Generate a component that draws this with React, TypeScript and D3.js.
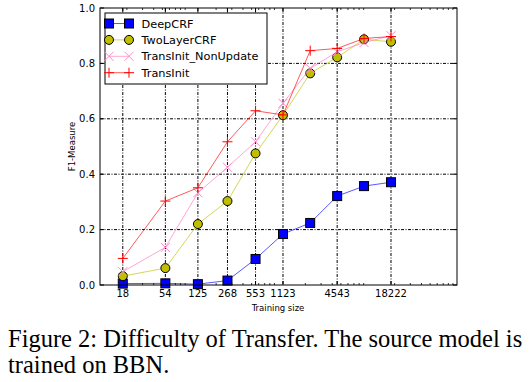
import React from "react";
import * as d3 from "d3";

const sizes = [18, 54, 125, 268, 553, 1123, 2265, 4543, 9086, 18222];
const tickSizes = [18, 54, 125, 268, 553, 1123, 4543, 18222];
const yTicks = [0, 0.2, 0.4, 0.6, 0.8, 1.0];

const deepCRF = [0.005, 0.006, 0.003, 0.016, 0.094, 0.184, 0.224, 0.321, 0.357, 0.371];
const twoLayerCRF = [0.032, 0.061, 0.22, 0.303, 0.475, 0.613, 0.764, 0.822, 0.887, 0.878];
const transInitNonUpdate = [0.048, 0.136, 0.333, 0.425, 0.517, 0.656, 0.782, 0.842, 0.875, 0.9];
const transInit = [0.096, 0.303, 0.351, 0.517, 0.629, 0.614, 0.846, 0.854, 0.89, 0.897];

const seriesNames = ["DeepCRF", "TwoLayerCRF", "TransInit_NonUpdate", "TransInit"];

const L = 100, R = 457, T = 8, B = 285;

export default function App() {
  const x = d3.scaleLog().domain([10, 100000]).range([L, R]);
  const y = d3.scaleLinear().domain([0, 1]).range([B, T]);
  const line = d3.line<number>().x((_, i) => x(sizes[i])).y((v) => y(v));

  const series = [
    { name: seriesNames[0], data: deepCRF, line: "#0000ff", marker: "square", fill: "#0000ff" },
    { name: seriesNames[1], data: twoLayerCRF, line: "#bfbf00", marker: "circle", fill: "#bfbf00" },
    { name: seriesNames[2], data: transInitNonUpdate, line: "#ff77bb", marker: "x", fill: "#ff88cc" },
    { name: seriesNames[3], data: transInit, line: "#ff0000", marker: "plus", fill: "#ff0000" },
  ];

  const marker = (type: string, cx: number, cy: number, fill: string, key: any) => {
    if (type === "square")
      return <rect key={key} x={cx - 4.5} y={cy - 4.5} width={9} height={9} fill={fill} stroke="#000" strokeWidth={1} />;
    if (type === "circle")
      return <circle key={key} cx={cx} cy={cy} r={4.5} fill={fill} stroke="#000" strokeWidth={1} />;
    if (type === "x")
      return (
        <path key={key} d={`M${cx - 4.5},${cy - 4.5}L${cx + 4.5},${cy + 4.5}M${cx - 4.5},${cy + 4.5}L${cx + 4.5},${cy - 4.5}`} stroke={fill} strokeWidth={1} fill="none" />
      );
    return (
      <path key={key} d={`M${cx - 5},${cy}L${cx + 5},${cy}M${cx},${cy - 5}L${cx},${cy + 5}`} stroke={fill} strokeWidth={1} fill="none" />
    );
  };

  const minor: number[] = [];
  for (let e = 1; e < 5; e++) for (let m = 2; m <= 9; m++) minor.push(m * Math.pow(10, e));

  const font = "DejaVu Sans, sans-serif";
  const dash = "3,1.5,1,1.5";
  const serif = "Liberation Serif, Times New Roman, serif";

  return (
    <svg width={530} height={382} style={{ position: "absolute", left: 0, top: 0, background: "#fff" }}>
      <rect x={0} y={0} width={530} height={382} fill="#fff" />
      {tickSizes.map((t) => (
        <line key={"vg" + t} x1={x(t)} x2={x(t)} y1={T} y2={B} stroke="#000" strokeWidth={1} strokeDasharray={dash} />
      ))}
      {yTicks.slice(1, 5).map((t) => (
        <line key={"hg" + t} x1={L} x2={R} y1={y(t)} y2={y(t)} stroke="#000" strokeWidth={1} strokeDasharray={dash} />
      ))}
      {minor.map((m) => (
        <g key={"mn" + m}>
          <line x1={x(m)} x2={x(m)} y1={B} y2={B - 2} stroke="#000" strokeWidth={0.8} />
          <line x1={x(m)} x2={x(m)} y1={T} y2={T + 2} stroke="#000" strokeWidth={0.8} />
        </g>
      ))}
      {tickSizes.map((t) => (
        <g key={"mj" + t}>
          <line x1={x(t)} x2={x(t)} y1={B} y2={B - 4} stroke="#000" strokeWidth={1} />
          <line x1={x(t)} x2={x(t)} y1={T} y2={T + 4} stroke="#000" strokeWidth={1} />
          <text x={x(t)} y={297} textAnchor="middle" fontFamily={font} fontSize={10} fill="#000">{t}</text>
        </g>
      ))}
      {yTicks.map((t) => (
        <g key={"yt" + t}>
          <line x1={L} x2={L + 4} y1={y(t)} y2={y(t)} stroke="#000" strokeWidth={1} />
          <line x1={R} x2={R - 4} y1={y(t)} y2={y(t)} stroke="#000" strokeWidth={1} />
          <text x={95} y={y(t) + 3.5} textAnchor="end" fontFamily={font} fontSize={10} fill="#000">{t.toFixed(1)}</text>
        </g>
      ))}
      {series.map((s, si) => (
        <g key={"s" + si}>
          <path d={line(s.data) || ""} fill="none" stroke={s.line} strokeOpacity={0.65} strokeWidth={1} />
          {s.data.map((v, i) => marker(s.marker, x(sizes[i]), y(v), s.fill, i))}
        </g>
      ))}
      <rect x={L} y={T} width={R - L} height={B - T} fill="none" stroke="#000" strokeWidth={1} />
      <rect x={105} y={13} width={162} height={71} fill="#fff" stroke="#000" strokeWidth={1} />
      {series.map((s, i) => {
        const ly = 23.5 + i * 16.4;
        return (
          <g key={"lg" + i}>
            <line x1={109} x2={129} y1={ly} y2={ly} stroke={s.line} strokeOpacity={0.65} strokeWidth={1} />
            {marker(s.marker, 109, ly, s.fill, "a")}
            {marker(s.marker, 129, ly, s.fill, "b")}
            <text x={141.5} y={ly + 4} fontFamily={font} fontSize={11.3} fill="#000">{s.name}</text>
          </g>
        );
      })}
      <text x={278} y={311} textAnchor="middle" fontFamily={font} fontSize={8.5} fill="#000">Training size</text>
      <text transform={`translate(75,${(T + B) / 2}) rotate(-90)`} textAnchor="middle" fontFamily={font} fontSize={8.5} fill="#000">F1-Measure</text>
      <text x={8} y={347} fontFamily={serif} fontSize={24.5} fill="#000">Figure 2: Difficulty of Transfer. The source model is</text>
      <text x={8} y={373} fontFamily={serif} fontSize={24.5} fill="#000">trained on BBN.</text>
    </svg>
  );
}
